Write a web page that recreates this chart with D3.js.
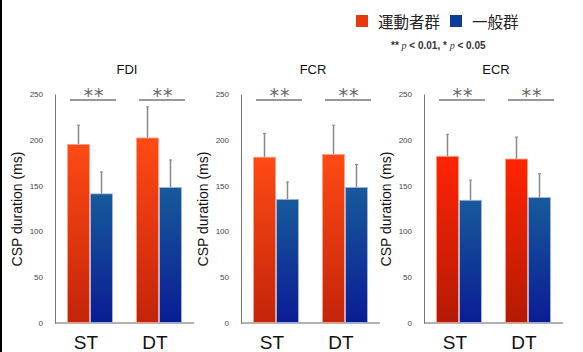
<!DOCTYPE html>
<html><head><meta charset="utf-8">
<script src="https://cdn.jsdelivr.net/npm/d3@7"></script>
<style>body{margin:0;background:#fff}svg{display:block}</style>
</head><body>
<script>
const muscles = ["FDI", "FCR", "ECR"];
const conditions = ["ST", "DT"];
const groups = ["運動者群", "一般群"];
// means [muscle][condition] for each group
const athleteMeans = [[195, 202], [181, 184], [182, 179]];
const athleteErr   = [[21, 34], [26, 32], [24, 24]];
const generalMeans = [[141, 148], [135, 148], [134, 137]];
const generalErr   = [[24, 30], [19, 25], [22, 26]];
const yTicks = [0, 50, 100, 150, 200, 250];
const sigLabels = [["**", "**"], ["**", "**"], ["**", "**"]];

const W = 583, H = 352;
const svg = d3.select("body").append("svg").attr("width", W).attr("height", H);
const defs = svg.append("defs");
function grad(id, top, bottom) {
  const g = defs.append("linearGradient").attr("id", id).attr("x1", 0).attr("y1", 0).attr("x2", 0).attr("y2", 1);
  g.append("stop").attr("offset", "0%").attr("stop-color", top);
  g.append("stop").attr("offset", "100%").attr("stop-color", bottom);
}
grad("orange", "#ff4a14", "#c4240a");
grad("red", "#ff2400", "#b41a05");
grad("blue", "#175a9b", "#0a1c94");

// left border
svg.append("rect").attr("x", 0).attr("y", 0).attr("width", 2).attr("height", H).attr("fill", "#000");

const y = d3.scaleLinear().domain([0, 250]).range([323, 94]);
const axisX = [55, 241, 424];
const plotW = 139;
const orangeFill = ["url(#orange)", "url(#orange)", "url(#red)"];

muscles.forEach((m, i) => {
  const x0 = axisX[i];
  const g = svg.append("g");
  const xb = d3.scaleBand().domain(conditions).range([x0 + 12, x0 + 127]).paddingInner(1/3).paddingOuter(0);
  const xs = d3.scaleBand().domain(groups).range([0, xb.bandwidth()]);

  // y axis
  const ya = d3.axisLeft(y).tickValues(yTicks).tickSize(0).tickPadding(12);
  const yg = g.append("g").attr("transform", `translate(${x0},0)`).call(ya);
  yg.select(".domain").attr("stroke", "#777").attr("stroke-width", 1);
  yg.selectAll("text").attr("font-family", "Liberation Sans, Arial, sans-serif").attr("font-size", 8).attr("fill", "#444");

  // x baseline
  g.append("line").attr("x1", x0).attr("x2", x0 + plotW).attr("y1", y(0)).attr("y2", y(0)).attr("stroke", "#666").attr("stroke-width", 1);

  // title
  g.append("text").attr("x", x0 + 72).attr("y", 74).attr("text-anchor", "middle")
    .attr("font-family", "Liberation Sans, Arial, sans-serif").attr("font-size", 13).attr("fill", "#111").text(m);

  // y label
  g.append("text").attr("transform", `translate(${x0 - 33},209) rotate(-90)`).attr("text-anchor", "middle")
    .attr("font-family", "Liberation Sans, Arial, sans-serif").attr("font-size", 14).attr("fill", "#111").text("CSP duration (ms)");

  conditions.forEach((c, j) => {
    const series = [
      {grp: groups[0], v: athleteMeans[i][j], e: athleteErr[i][j], fill: orangeFill[i], stroke: "#f9a58c"},
      {grp: groups[1], v: generalMeans[i][j], e: generalErr[i][j], fill: "url(#blue)", stroke: "#a6b8e6"}
    ];
    series.forEach(s => {
      const bx = xb(c) + xs(s.grp);
      const cx = bx + xs.bandwidth() / 2;
      g.append("line").attr("x1", cx).attr("x2", cx).attr("y1", y(s.v)).attr("y2", y(s.v + s.e))
        .attr("stroke", "#888").attr("stroke-width", 1.5);
      g.append("line").attr("x1", cx - 1.5).attr("x2", cx + 1.5).attr("y1", y(s.v + s.e)).attr("y2", y(s.v + s.e))
        .attr("stroke", "#888").attr("stroke-width", 1);
      g.append("rect").attr("x", bx + 0.5).attr("y", y(s.v)).attr("width", xs.bandwidth() - 1).attr("height", y(0) - y(s.v) - 0.5)
        .attr("fill", s.fill).attr("stroke", s.stroke).attr("stroke-width", 0.8);
    });
    // significance
    const sx1 = xb(c) + 3, sx2 = xb(c) + xb.bandwidth() + 3;
    g.append("line").attr("x1", sx1).attr("x2", sx2).attr("y1", 100).attr("y2", 100).attr("stroke", "#333").attr("stroke-width", 1.2);
    g.append("text").attr("x", (sx1 + sx2) / 2 + 1).attr("y", 102).attr("text-anchor", "middle")
      .attr("font-family", "DejaVu Sans, sans-serif").attr("font-size", 19).attr("letter-spacing", 1).attr("fill", "#666")
      .text(sigLabels[i][j]);
    // category label
    g.append("text").attr("x", xb(c) + xb.bandwidth() / 2 - 4).attr("y", 349).attr("text-anchor", "middle")
      .attr("font-family", "Liberation Sans, Arial, sans-serif").attr("font-size", 19).attr("fill", "#111").text(c);
  });
});

// legend
const legend = svg.append("g");
const legendX = [356, 450];
const legendFill = ["#e8380e", "#0d3a9a"];
groups.forEach((gname, k) => {
  legend.append("rect").attr("x", legendX[k]).attr("y", 15).attr("width", 12).attr("height", 12).attr("fill", legendFill[k]);
  legend.append("text").attr("x", legendX[k] + 22).attr("y", 27.5)
    .attr("font-family", "Noto Sans CJK JP, sans-serif").attr("font-size", 15.5).attr("fill", "#222").text(gname);
});
const note = svg.append("text").attr("x", 391).attr("y", 48.5)
  .attr("font-family", "Liberation Sans, Arial, sans-serif").attr("font-size", 10).attr("font-weight", "bold").attr("fill", "#333");
note.append("tspan").text("** ");
note.append("tspan").attr("font-family", "Liberation Serif, serif").attr("font-style", "italic").attr("font-weight", "normal").text("p");
note.append("tspan").text(" < 0.01, * ");
note.append("tspan").attr("font-family", "Liberation Serif, serif").attr("font-style", "italic").attr("font-weight", "normal").text("p");
note.append("tspan").text(" < 0.05");
</script>
</body></html>
